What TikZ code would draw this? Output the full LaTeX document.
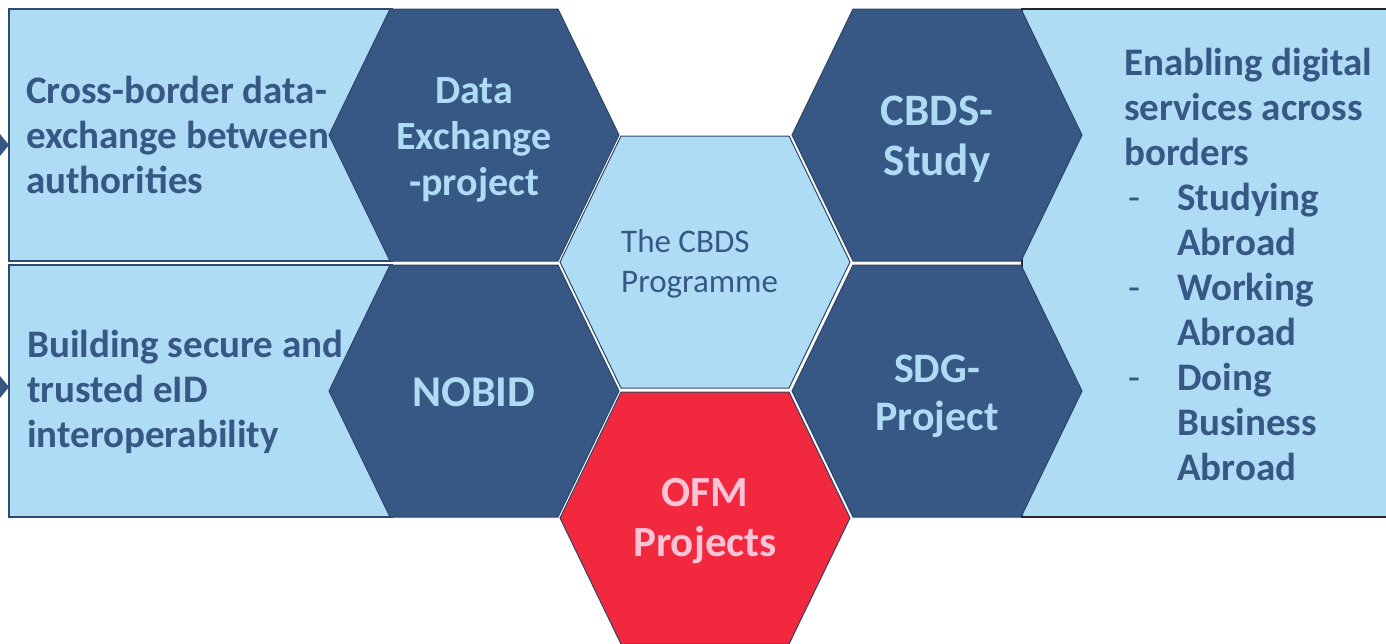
\documentclass[tikz,border=0pt]{standalone}
\usepackage{fontspec}
\setmainfont{Carlito}

\definecolor{paleblue}{HTML}{AEDCF4}
\definecolor{navy}{HTML}{375785}
\definecolor{ofmred}{HTML}{F2283F}
\definecolor{ofmpink}{HTML}{FAC3D6}

\tikzstyle{panel}=[fill=paleblue,draw=navy!85!black,line width=1.5pt]
\tikzstyle{hexface}=[draw=navy!80!black,line width=1pt]
\tikzstyle{hexlabel}=[align=center,inner sep=0pt,text=paleblue]
\tikzstyle{paneltext}=[align=left,anchor=west,inner sep=0pt,font=\fontsize{39}{45}\selectfont\bfseries,text=navy]

\newcommand{\hexagonat}[2]{(#1-145,#2) -- (#1-84,#2-126) -- (#1+84,#2-126) -- (#1+145,#2) -- (#1+84,#2+126) -- (#1-84,#2+126) -- cycle}
\newcommand{\hexfont}[2]{\fontsize{#1}{#2}\selectfont\bfseries}
\newcommand{\listdash}{\makebox[53pt][l]{\mdseries\hspace{4pt}-}}

\begin{document}
\begin{tikzpicture}[x=1pt,y=-1pt]
	\clip (0,0) rectangle (1386,643);
	% side panels
	\draw[panel] (9,9) rectangle (392,261);
	\draw[panel] (9,265) rectangle (392,517);
	\draw[panel,draw=black!85] (1022,9) rectangle (1400,517);
	\fill[navy] (0,134) -- (9,145) -- (0,156) -- cycle;
	\fill[navy] (0,376) -- (9,387) -- (0,398) -- cycle;
		% hexagons
		\foreach \cx/\cy/\col in {474/135/navy, 474/391/navy, 705/262/paleblue, 705/518/ofmred, 937/135/navy, 937/391/navy}
		\filldraw[hexface,fill=\col] \hexagonat{\cx}{\cy};
	% labels
	\node[paneltext] (exchange) at (26,135) {Cross-border data-\\exchange between\\authorities};
	\node[paneltext] (eid) at (27,392) {Building secure and\\trusted eID\\interoperability};
	\node[paneltext] (services) at (1124,264) {Enabling digital\\services across\\borders\\
		\listdash Studying\\\hspace*{53pt}Abroad\\
		\listdash Working\\\hspace*{53pt}Abroad\\
		\listdash Doing\\\hspace*{53pt}Business\\\hspace*{53pt}Abroad};
	\node[hexlabel,font=\hexfont{40}{46}] (dataex) at (474,140) {Data\\Exchange\\-project};
	\node[hexlabel,font=\hexfont{44}{50}] (nobid) at (474,392) {NOBID};
	\node[hexlabel,font=\hexfont{45}{50}] (study) at (937,139) {CBDS-\\Study};
	\node[hexlabel,font=\hexfont{42}{48}] (sdg) at (937,396) {SDG-\\Project};
	\node[hexlabel,font=\hexfont{43}{50},text=ofmpink] (ofm) at (705,521) {OFM\\Projects};
	\node[paneltext,font=\fontsize{33}{40}\selectfont] (programme) at (621,264) {The CBDS\\Programme};
\end{tikzpicture}
\end{document}
